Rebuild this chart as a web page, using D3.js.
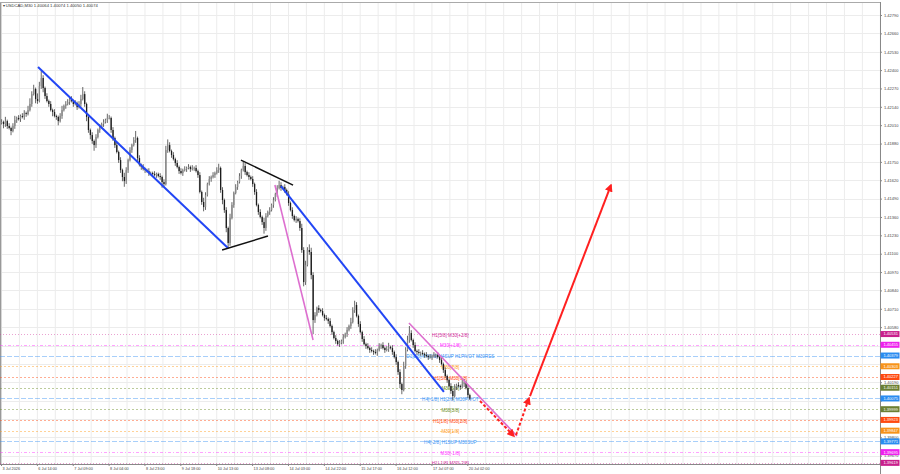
<!DOCTYPE html>
<html>
<head>
<meta charset="utf-8">
<script src="https://cdn.jsdelivr.net/npm/d3@7"></script>
<style>
  body { margin: 0; background: #fff; }
  svg { display: block; font-family: "Liberation Sans", Arial, sans-serif; }
</style>
</head>
<body>
<script>
// ---- data ----
const symbol = "USDCAD,M30";
const quote = ["1.40064", "1.40074", "1.40050", "1.40074"];

const timeLabels = ["3 Jul 2026", "6 Jul 14:00", "7 Jul 09:00", "8 Jul 04:00", "8 Jul 23:00",
    "9 Jul 18:00", "10 Jul 13:00", "13 Jul 08:00", "14 Jul 03:00", "14 Jul 22:00",
    "15 Jul 17:00", "16 Jul 12:00", "17 Jul 07:00", "20 Jul 02:00"];
const barsPerLabel = 19;

const priceTicks = [1.42790, 1.42660, 1.42530, 1.42400, 1.42270, 1.42140, 1.42010, 1.41880,
    1.41750, 1.41620, 1.41490, 1.41360, 1.41230, 1.41100, 1.40970, 1.40840, 1.40710,
    1.40580, 1.40450, 1.40320, 1.40190, 1.40060, 1.39930, 1.39800, 1.39670];

const firstOpen = 1.42025;
const closes = [
    1.42032, 1.42018, 1.42039, 1.42004, 1.41990, 1.41969, 1.42004, 1.42046, 1.42061, 1.42053,
    1.42075, 1.42068, 1.42096, 1.42089, 1.42117, 1.42160, 1.42230, 1.42266, 1.42195, 1.42181,
    1.42287, 1.42344, 1.42273, 1.42216, 1.42181, 1.42160, 1.42117, 1.42103, 1.42075, 1.42068,
    1.42039, 1.42075, 1.42117, 1.42146, 1.42160, 1.42174, 1.42195, 1.42181, 1.42160, 1.42167,
    1.42138, 1.42160, 1.42195, 1.42230, 1.42160, 1.42068, 1.41976, 1.41940, 1.41898, 1.41869,
    1.41926, 1.41976, 1.41997, 1.42018, 1.42032, 1.42046, 1.42061, 1.42061, 1.41976, 1.41919,
    1.41869, 1.41820, 1.41763, 1.41692, 1.41643, 1.41614, 1.41692, 1.41763, 1.41834, 1.41869,
    1.41905, 1.41919, 1.41777, 1.41728, 1.41714, 1.41699, 1.41692, 1.41685, 1.41671, 1.41671,
    1.41664, 1.41657, 1.41664, 1.41650, 1.41643, 1.41607, 1.41593, 1.41834, 1.41869, 1.41827,
    1.41799, 1.41770, 1.41742, 1.41714, 1.41685, 1.41671, 1.41692, 1.41699, 1.41707, 1.41714,
    1.41699, 1.41707, 1.41707, 1.41685, 1.41657, 1.41537, 1.41466, 1.41430, 1.41515, 1.41593,
    1.41629, 1.41643, 1.41657, 1.41671, 1.41692, 1.41707, 1.41551, 1.41480, 1.41409, 1.41282,
    1.41176, 1.41353, 1.41445, 1.41530, 1.41572, 1.41607, 1.41650, 1.41692, 1.41721, 1.41678,
    1.41657, 1.41643, 1.41629, 1.41593, 1.41537, 1.41445, 1.41395, 1.41360, 1.41324, 1.41282,
    1.41367, 1.41395, 1.41409, 1.41445, 1.41480, 1.41522, 1.41565, 1.41586, 1.41565, 1.41572,
    1.41551, 1.41522, 1.41459, 1.41409, 1.41367, 1.41338, 1.41346, 1.41331, 1.41282, 1.41126,
    1.40899, 1.41020, 1.41126, 1.41112, 1.40949, 1.40630, 1.40666, 1.40715, 1.40701, 1.40694,
    1.40666, 1.40645, 1.40638, 1.40623, 1.40588, 1.40545, 1.40503, 1.40482, 1.40460, 1.40468,
    1.40482, 1.40510, 1.40531, 1.40560, 1.40588, 1.40616, 1.40701, 1.40737, 1.40659, 1.40602,
    1.40545, 1.40496, 1.40460, 1.40446, 1.40432, 1.40418, 1.40411, 1.40404, 1.40397, 1.40418,
    1.40446, 1.40453, 1.40432, 1.40418, 1.40425, 1.40439, 1.40432, 1.40404, 1.40368, 1.40333,
    1.40262, 1.40177, 1.40135, 1.40305, 1.40418, 1.40489, 1.40538, 1.40489, 1.40453, 1.40411,
    1.40404, 1.40397, 1.40397, 1.40390, 1.40383, 1.40375, 1.40368, 1.40368, 1.40375, 1.40383,
    1.40383, 1.40368, 1.40347, 1.40319, 1.40276, 1.40234, 1.40206, 1.40163, 1.40128, 1.40092,
    1.40156, 1.40170, 1.40163, 1.40156, 1.40177, 1.40191, 1.40149, 1.40099, 1.40074
];
// wick lengths in pips above / below the body
const wickUp = [
    2, 1, 3, 1, 2, 1, 2, 3, 1, 2,  1, 2, 2, 1, 3, 4, 2, 3, 1, 4,  3, 5, 2, 1, 2, 1, 2, 1, 2, 1,
    1, 2, 3, 1, 2, 2, 1, 2, 1, 2,  1, 2, 3, 5, 2, 1, 2, 1, 2, 1,  2, 1, 2, 1, 2, 1, 3, 2, 1, 2,
    1, 2, 1, 2, 1, 3, 2, 1, 2, 1,  2, 5, 1, 2, 1, 2, 1, 1, 2, 1,  1, 2, 1, 1, 2, 1, 2, 3, 4, 2,
    1, 2, 1, 2, 1, 2, 1, 2, 1, 2,  1, 2, 1, 2, 1, 2, 1, 3, 2, 1,  2, 1, 2, 1, 2, 3, 1, 2, 1, 2,
    1, 3, 2, 1, 2, 1, 2, 1, 3, 2,  1, 2, 1, 2, 1, 2, 1, 2, 1, 3,  2, 1, 2, 1, 2, 1, 2, 3, 2, 1,
    2, 1, 2, 1, 2, 1, 2, 1, 2, 3,  2, 3, 2, 4, 3, 2, 2, 1, 2, 1,  2, 1, 2, 1, 2, 1, 1, 2, 1, 2,
    1, 2, 1, 2, 1, 3, 2, 3, 2, 1,  2, 1, 2, 1, 2, 1, 2, 1, 2, 1,  2, 1, 2, 1, 2, 3, 1, 2, 1, 2,
    1, 2, 1, 3, 2, 3, 5, 2, 1, 2,  1, 2, 1, 2, 1, 2, 1, 2, 1, 2,  1, 2, 1, 2, 1, 2, 1, 1, 2, 1,
    2, 1, 2, 1, 3, 2, 1, 2, 1
];
const wickDn = [
    1, 3, 2, 2, 1, 3, 1, 2, 2, 1,  2, 1, 2, 2, 1, 1, 2, 1, 3, 2,  1, 2, 3, 2, 1, 2, 1, 3, 1, 2,
    3, 1, 2, 1, 2, 1, 2, 1, 2, 1,  2, 1, 2, 1, 2, 3, 2, 3, 2, 4,  2, 1, 2, 1, 2, 1, 2, 1, 2, 2,
    2, 1, 2, 2, 3, 4, 2, 2, 1, 2,  1, 2, 2, 1, 2, 1, 2, 1, 2, 1,  2, 1, 2, 1, 2, 4, 2, 1, 2, 1,
    2, 1, 2, 1, 2, 1, 2, 1, 2, 1,  2, 1, 2, 1, 2, 1, 2, 3, 2, 1,  1, 2, 1, 2, 1, 2, 2, 3, 2, 3,
    4, 2, 1, 2, 1, 2, 1, 2, 1, 2,  1, 2, 1, 2, 2, 1, 2, 1, 2, 4,  2, 1, 2, 1, 2, 1, 2, 1, 2, 1,
    2, 1, 2, 1, 2, 1, 2, 1, 2, 2,  3, 2, 1, 2, 3, 10, 2, 1, 2, 1, 1, 2, 1, 2, 1, 2, 1, 2, 1, 2,
    1, 2, 1, 2, 1, 2, 1, 2, 1, 2,  1, 2, 1, 2, 1, 2, 1, 2, 1, 2,  1, 2, 1, 2, 1, 2, 1, 2, 1, 2,
    2, 3, 3, 1, 2, 1, 2, 1, 2, 1,  2, 1, 2, 1, 2, 1, 2, 1, 2, 1,  2, 1, 2, 1, 2, 1, 2, 1, 2, 3,
    1, 2, 1, 2, 1, 2, 1, 2, 1
];

// murrey levels drawn across the chart
const levelPrices = [1.40531, 1.40455, 1.40379, 1.40303, 1.40227, 1.40151, 1.40075,
    1.39999, 1.39923, 1.39847, 1.39771, 1.39695, 1.39619];
const levelNames = ["H1[5/8] M30[+2/8]", "M30[+1/8]", "D1[2/8] H4[0/8] H4SUP H1PIVOT M30RES",
    "M30[7/8]", "H1[3/8] M30[6/8]", "M30[5/8]", "H4[-1/8] H1[2/8] M30PIVOT", "M30[3/8]",
    "H1[1/8] M30[2/8]", "M30[1/8]", "H4[-2/8] H1SUP M30SUP", "M30[-1/8]", "H1[-1/8] M30[-2/8]"];
const levelKinds = ["p2", "p1", "b", "o", "r", "g", "b", "g", "r", "o", "b", "p1", "p2"];

// hand drawn objects: [bar1, price1, bar2, price2]
const blueLines = [[19.6, 1.42422, 120.2, 1.41140], [148.3, 1.41579, 234.6, 1.40121]];
const blackLines = [[117.1, 1.41126, 141.4, 1.41225], [127.1, 1.41763, 154.7, 1.41586]];
const pinkLines = [[145.1, 1.41586, 165.3, 1.40489], [216.1, 1.40609, 273.3, 1.39809]];
const redDashed = [[253.7, 1.40057, 271.7, 1.39809], [272.8, 1.39816, 279.7, 1.40078]];
const redSolid = [[280.2, 1.40092, 323.1, 1.41586]];

// ---- styles ----
const levelStyle = {
    p2: { line: "#d0309a", box: "#c8208c", dash: "1,2" },
    p1: { line: "#ff33ff", box: "#ee22ee", dash: "3,2,1,2" },
    b:  { line: "#3d95f5", box: "#2a8cf0", dash: "5,2" },
    o:  { line: "#ff9c1a", box: "#f7931a", dash: "2,2" },
    r:  { line: "#ff4a10", box: "#ff4a10", dash: "2,2" },
    g:  { line: "#6b8e23", box: "#6b7f33", dash: "2,2" }
};

const width = 900;
const height = 474;
const axisX = 880;
const plotBottom = 464;

const svg = d3.select("body").append("svg")
    .attr("width", width)
    .attr("height", height);

const xScale = d3.scaleLinear().domain([0, 248]).range([1, 469.2]);
const yScale = d3.scaleLinear().domain([1.39611, 1.42875]).range([plotBottom, 3]);

const defs = svg.append("defs");
defs.append("clipPath").attr("id", "plot")
    .append("rect").attr("x", 0).attr("y", 2).attr("width", axisX).attr("height", plotBottom - 2);
defs.append("marker")
    .attr("id", "arrowRed")
    .attr("viewBox", "0 0 10 10")
    .attr("refX", 8).attr("refY", 5)
    .attr("markerUnits", "userSpaceOnUse")
    .attr("markerWidth", 8).attr("markerHeight", 8)
    .attr("orient", "auto")
    .append("path").attr("d", "M0,0 L10,5 L0,10 z").attr("fill", "#ff2020");

// grid
const grid = svg.append("g").attr("clip-path", "url(#plot)");
grid.selectAll(".vgrid")
    .data(d3.range(0, 470, barsPerLabel / 2))
    .join("line")
    .attr("x1", d => xScale(d) + 0.5).attr("x2", d => xScale(d) + 0.5)
    .attr("y1", 2).attr("y2", plotBottom)
    .attr("stroke", "#ececec").attr("stroke-width", 1);
grid.selectAll(".hgrid")
    .data(priceTicks)
    .join("line")
    .attr("x1", 0).attr("x2", axisX)
    .attr("y1", d => Math.round(yScale(d)) + 0.5).attr("y2", d => Math.round(yScale(d)) + 0.5)
    .attr("stroke", "#ececec").attr("stroke-width", 1);

// frame
svg.append("line").attr("x1", 0.5).attr("x2", 0.5).attr("y1", 2).attr("y2", plotBottom)
    .attr("stroke", "#999").attr("stroke-width", 1.5);
svg.append("line").attr("x1", 0).attr("x2", axisX).attr("y1", 2.5).attr("y2", 2.5)
    .attr("stroke", "#aaa");

// murrey levels
const levels = levelPrices.map((p, i) => ({ price: p, name: levelNames[i], kind: levelKinds[i] }));
const lv = svg.append("g").attr("clip-path", "url(#plot)");
lv.selectAll("line")
    .data(levels)
    .join("line")
    .attr("x1", 0).attr("x2", axisX)
    .attr("y1", d => Math.round(yScale(d.price)) + 0.5)
    .attr("y2", d => Math.round(yScale(d.price)) + 0.5)
    .attr("stroke", d => levelStyle[d.kind].line)
    .attr("stroke-opacity", 0.45)
    .attr("stroke-dasharray", d => levelStyle[d.kind].dash);
lv.selectAll("text")
    .data(levels)
    .join("text")
    .attr("x", xScale(238))
    .attr("y", d => yScale(d.price) + 1)
    .attr("dy", "0.35em")
    .attr("text-anchor", "middle")
    .attr("font-size", "4.6px")
    .attr("fill", d => levelStyle[d.kind].line)
    .text(d => d.name);

// candles
const opens = [firstOpen].concat(closes.slice(0, -1));
const bars = closes.map((c, i) => {
    const o = opens[i];
    return {
        i: i, o: o, c: c,
        h: Math.max(o, c) + wickUp[i] * 0.0001,
        l: Math.min(o, c) - wickDn[i] * 0.0001
    };
});
const candles = svg.append("g").attr("clip-path", "url(#plot)");
candles.selectAll(".wick")
    .data(bars)
    .join("line")
    .attr("x1", d => xScale(d.i) + 0.6).attr("x2", d => xScale(d.i) + 0.6)
    .attr("y1", d => yScale(d.h)).attr("y2", d => yScale(d.l))
    .attr("stroke", "#555").attr("stroke-width", 0.9);
candles.selectAll(".body")
    .data(bars)
    .join("rect")
    .attr("x", d => xScale(d.i))
    .attr("width", 1.3)
    .attr("y", d => yScale(Math.max(d.o, d.c)))
    .attr("height", d => Math.max(0.8, Math.abs(yScale(d.o) - yScale(d.c))))
    .attr("fill", d => d.c >= d.o ? "#8a8a8a" : "#1c1c1c");

// drawn objects
const objs = svg.append("g").attr("clip-path", "url(#plot)");
const drawSegs = (segs, color, w, dash, marker) => {
    objs.append("g").selectAll("line")
        .data(segs)
        .join("line")
        .attr("x1", d => xScale(d[0])).attr("y1", d => yScale(d[1]))
        .attr("x2", d => xScale(d[2])).attr("y2", d => yScale(d[3]))
        .attr("stroke", color)
        .attr("stroke-width", w)
        .attr("stroke-dasharray", dash)
        .attr("marker-end", marker);
};
drawSegs(blueLines, "#2246f5", 2, null, null);
drawSegs(blackLines, "#111", 1.5, null, null);
drawSegs(pinkLines, "#dd6fcf", 1.6, null, null);
drawSegs(redDashed, "#ff2020", 2, "3,2", "url(#arrowRed)");
drawSegs(redSolid, "#ff2020", 2, null, "url(#arrowRed)");

// price axis - tick labels sitting under a level tag are hidden, as the tag covers them
const underTag = p => levelPrices.some(l => Math.abs(yScale(l) - yScale(p)) < 3.5);
const yAxis = d3.axisRight(yScale)
    .tickValues(priceTicks)
    .tickFormat(d => underTag(d) ? "" : d3.format(".5f")(d))
    .tickSize(2)
    .tickPadding(2);
const ya = svg.append("g")
    .attr("class", "axis")
    .attr("transform", "translate(" + axisX + ",0)")
    .call(yAxis);
ya.select(".domain").attr("stroke", "#888").attr("d", "M0.5,2V" + height);
ya.selectAll(".tick line").attr("stroke", "#888");
ya.selectAll("text").attr("font-size", "4px").attr("fill", "#444");

// level tags on the price axis
const tags = svg.append("g").selectAll("g")
    .data(levels)
    .join("g")
    .attr("transform", d => "translate(" + (axisX + 0.5) + "," + yScale(d.price) + ")");
tags.append("rect")
    .attr("x", 0).attr("y", -3)
    .attr("width", 19).attr("height", 6)
    .attr("fill", d => levelStyle[d.kind].box);
tags.append("text")
    .attr("x", 3).attr("dy", "0.35em")
    .attr("font-size", "4px")
    .attr("fill", "#fff")
    .text(d => d3.format(".5f")(d.price));

// time axis
const xAxis = d3.axisBottom(xScale)
    .tickValues(timeLabels.map((_, k) => k * barsPerLabel))
    .tickFormat((d, k) => timeLabels[k])
    .tickSize(2)
    .tickPadding(1.5);
const xa = svg.append("g")
    .attr("class", "axis")
    .attr("transform", "translate(0," + plotBottom + ")")
    .call(xAxis);
xa.select(".domain").attr("stroke", "#888").attr("d", "M0,0.5H" + axisX);
xa.selectAll(".tick line").attr("stroke", "#888");
xa.selectAll("text")
    .attr("font-size", "3.8px")
    .attr("fill", "#444")
    .attr("text-anchor", "start")
    .attr("dx", "1px");

// header
svg.append("text")
    .attr("x", 2.5).attr("y", 6.5)
    .attr("font-size", "4.2px")
    .attr("fill", "#333")
    .text("\u25BE " + symbol + "  " + quote.join(" "));
</script>
</body>
</html>
